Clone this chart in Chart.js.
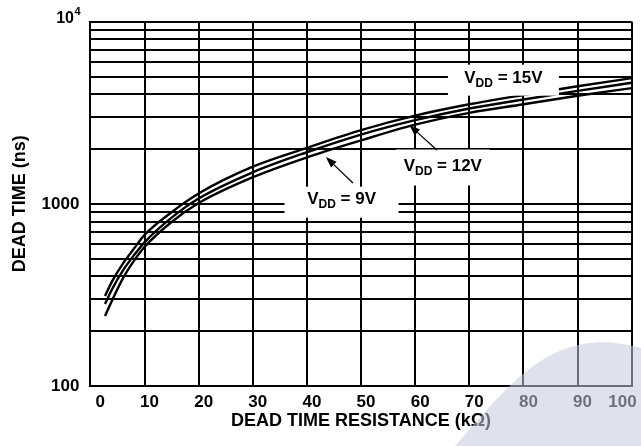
<!DOCTYPE html>
<html>
<head>
<meta charset="utf-8">
<script src="https://cdn.jsdelivr.net/npm/chart.js@4.4.0/dist/chart.umd.min.js"></script>
<style>
  html, body { margin: 0; padding: 0; background: #fff; }
</style>
</head>
<body>
<canvas id="deadTimeChart" width="641" height="446"></canvas>
<script>
// Dead time resistance (kOhm) and dead time (ns)
const resistance = [2.7, 4, 6, 8, 10, 15, 20, 30, 40, 50, 60, 70, 80, 90, 100];
const deadTime15V = [312, 375, 470, 565, 675, 900, 1140, 1600, 2030, 2540, 3050, 3520, 3960, 4420, 4900];
const deadTime12V = [282, 340, 430, 520, 615, 840, 1070, 1490, 1920, 2400, 2880, 3340, 3740, 4170, 4620];
const deadTime9V = [242, 295, 390, 485, 580, 795, 1010, 1400, 1800, 2230, 2720, 3160, 3520, 3920, 4320];

const yGridValues = [100, 200, 300, 400, 500, 600, 700, 800, 900,
  1000, 2000, 3000, 4000, 5000, 6000, 7000, 8000, 9000, 10000];
const yTickLabels = { 100: '100', 1000: '1000' };

// curve labels: text, anchor (kOhm, ns) and optional arrow tail/tip
const curveLabels = ['15V', '12V', '9V'];
const labelAtR = [76.3, 65.1, 46.4];
const labelAtT = [4627, 1524, 1002];
const arrowFrom = [null, [64.0, 1975], [48.5, 1302]];
const arrowTo = [null, [58.9, 2710], [43.5, 1808]];

const FONT = '"Liberation Sans", Arial, Helvetica, sans-serif';
const boxW = [111, 94, 114];
const boxUp = [18, 21, 17];
const boxDown = [13, 15, 14];

const labelPlugin = {
  id: 'curveLabels',
  afterDatasetsDraw(chart) {
    const { ctx, scales: { x, y } } = chart;
    ctx.save();
    curveLabels.forEach((txt, i) => {
      const px = x.getPixelForValue(labelAtR[i]);
      const py = y.getPixelForValue(labelAtT[i]);
      ctx.fillStyle = '#fff';
      ctx.fillRect(px - boxW[i] / 2, py - boxUp[i], boxW[i], boxUp[i] + boxDown[i]);

      const big = 'bold 17px ' + FONT;
      const small = 'bold 12px ' + FONT;
      const rest = ' = ' + txt;
      ctx.font = big;
      const wV = ctx.measureText('V').width;
      const wRest = ctx.measureText(rest).width;
      ctx.font = small;
      const wSub = ctx.measureText('DD').width;
      let sx = px - (wV + wSub + wRest) / 2;
      ctx.fillStyle = '#000';
      ctx.textAlign = 'left';
      ctx.textBaseline = 'alphabetic';
      ctx.font = big;
      ctx.fillText('V', sx, py);
      ctx.font = small;
      ctx.fillText('DD', sx + wV, py + 4);
      ctx.font = big;
      ctx.fillText(rest, sx + wV + wSub, py);

      if (arrowFrom[i]) {
        const x0 = x.getPixelForValue(arrowFrom[i][0]);
        const y0 = y.getPixelForValue(arrowFrom[i][1]);
        const x1 = x.getPixelForValue(arrowTo[i][0]);
        const y1 = y.getPixelForValue(arrowTo[i][1]);
        const ang = Math.atan2(y1 - y0, x1 - x0);
        const hl = 11, hw = 4;
        ctx.strokeStyle = '#000';
        ctx.lineWidth = 1.3;
        ctx.beginPath();
        ctx.moveTo(x0, y0);
        ctx.lineTo(x1 - Math.cos(ang) * hl, y1 - Math.sin(ang) * hl);
        ctx.stroke();
        ctx.beginPath();
        ctx.moveTo(x1, y1);
        ctx.lineTo(x1 - Math.cos(ang) * hl - Math.sin(ang) * hw, y1 - Math.sin(ang) * hl + Math.cos(ang) * hw);
        ctx.lineTo(x1 - Math.cos(ang) * hl + Math.sin(ang) * hw, y1 - Math.sin(ang) * hl - Math.cos(ang) * hw);
        ctx.closePath();
        ctx.fill();
      }
    });
    ctx.restore();
  },
  afterDraw(chart) {
    const { ctx, scales: { y } } = chart;
    ctx.save();
    // 10^4 label above the top of the axis
    const top = y.getPixelForValue(10000);
    ctx.fillStyle = '#000';
    ctx.textBaseline = 'alphabetic';
    ctx.textAlign = 'right';
    ctx.font = 'bold 16px ' + FONT;
    ctx.fillText('10', 74, top + 1);
    ctx.textAlign = 'left';
    ctx.font = 'bold 11px ' + FONT;
    ctx.fillText('4', 74.5, top - 7);

    // faint watermark in the lower right corner
    ctx.fillStyle = 'rgba(196, 202, 222, 0.55)';
    ctx.beginPath();
    ctx.moveTo(455, 446);
    ctx.bezierCurveTo(485, 412, 522, 365, 562, 350);
    ctx.bezierCurveTo(588, 340, 612, 340, 641, 348);
    ctx.lineTo(641, 446);
    ctx.closePath();
    ctx.fill();
    ctx.restore();
  }
};

const curve = (data) => ({
  data: data,
  borderColor: '#000',
  borderWidth: 2.4,
  pointRadius: 0,
  fill: false,
  cubicInterpolationMode: 'monotone'
});

const ctx = document.getElementById('deadTimeChart').getContext('2d');
new Chart(ctx, {
  type: 'line',
  data: {
    labels: resistance,
    datasets: [
      { label: 'VDD = 15V', ...curve(resistance.map((r, i) => ({ x: r, y: deadTime15V[i] }))) },
      { label: 'VDD = 12V', ...curve(resistance.map((r, i) => ({ x: r, y: deadTime12V[i] }))) },
      { label: 'VDD = 9V', ...curve(resistance.map((r, i) => ({ x: r, y: deadTime9V[i] }))) }
    ]
  },
  options: {
    responsive: false,
    animation: false,
    devicePixelRatio: 1,
    layout: { padding: { top: 21.7, right: 9.3, left: 0, bottom: 0 } },
    plugins: { legend: { display: false }, tooltip: { enabled: false } },
    scales: {
      x: {
        type: 'linear',
        min: 0,
        max: 100,
        afterFit: (s) => { s.height = 60; },
        ticks: {
          stepSize: 10,
          align: 'inner',
          labelOffset: 5,
          padding: 6,
          maxRotation: 0,
          autoSkip: false,
          color: '#000',
          font: { family: FONT, size: 17, weight: 'bold' }
        },
        grid: { color: '#000', lineWidth: 2, drawTicks: false },
        border: { color: '#000', width: 2 },
        title: {
          display: true,
          text: 'DEAD TIME RESISTANCE (kΩ)',
          color: '#000',
          padding: { top: 0, bottom: 14 },
          font: { family: FONT, size: 18, weight: 'bold' }
        }
      },
      y: {
        type: 'logarithmic',
        min: 100,
        max: 10000,
        afterFit: (s) => { s.width = 90.4; },
        afterBuildTicks: (s) => { s.ticks = yGridValues.map(v => ({ value: v })); },
        ticks: {
          autoSkip: false,
          padding: 11,
          color: '#000',
          font: { family: FONT, size: 17, weight: 'bold' },
          callback: (v) => yTickLabels[v] || ''
        },
        grid: { color: '#000', lineWidth: 2, drawTicks: false },
        border: { color: '#000', width: 2 },
        title: {
          display: true,
          text: 'DEAD TIME (ns)',
          color: '#000',
          padding: { top: 9, bottom: 0 },
          font: { family: FONT, size: 18, weight: 'bold' }
        }
      }
    }
  },
  plugins: [labelPlugin]
});
</script>
</body>
</html>
